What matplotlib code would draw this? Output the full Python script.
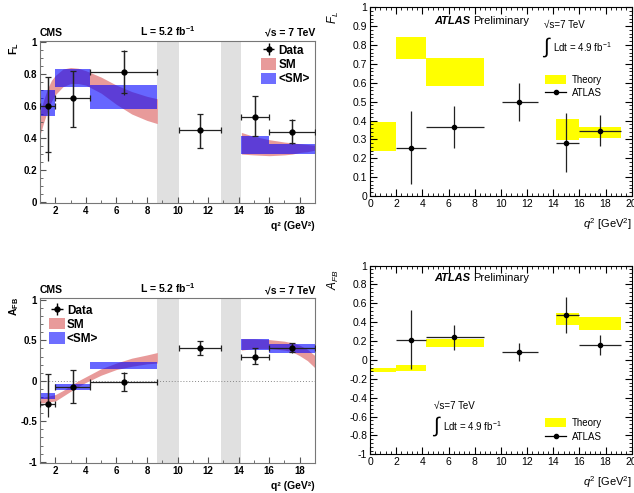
import matplotlib
matplotlib.use("Agg")
import matplotlib.pyplot as plt
import numpy as np
from matplotlib.patches import Rectangle
from matplotlib.lines import Line2D
from matplotlib.ticker import MultipleLocator

plt.rcParams['font.family'] = ['Liberation Sans', 'DejaVu Sans']
plt.rcParams['mathtext.fontset'] = 'custom'
plt.rcParams['mathtext.rm'] = 'Liberation Sans'
plt.rcParams['mathtext.it'] = 'Liberation Sans:italic'
plt.rcParams['mathtext.bf'] = 'Liberation Sans:bold'

# ---------------- CMS data ----------------
cms_lo = [1.0, 2.0, 4.3, 10.09, 14.18, 16.0]
cms_hi = [2.0, 4.3, 8.68, 12.86, 16.0, 19.0]
cms_x = [1.5, 3.15, 6.5, 11.5, 15.1, 17.5]
cms_fl = [0.60, 0.65, 0.81, 0.45, 0.53, 0.44]
cms_fl_stat_lo = [0.29, 0.18, 0.13, 0.11, 0.12, 0.07]
cms_fl_stat_hi = [0.18, 0.17, 0.13, 0.10, 0.13, 0.075]
cms_fl_tot_lo = [0.34, 0.18, 0.14, 0.11, 0.12, 0.08]
cms_fl_tot_hi = [0.18, 0.17, 0.14, 0.10, 0.13, 0.08]
cms_afb = [-0.29, -0.07, -0.01, 0.40, 0.30, 0.41]
cms_afb_stat_lo = [0.0, 0.20, 0.11, 0.08, 0.09, 0.055]
cms_afb_stat_hi = [0.38, 0.20, 0.11, 0.09, 0.10, 0.06]
cms_afb_tot_lo = [0.16, 0.20, 0.12, 0.08, 0.09, 0.06]
cms_afb_tot_hi = [0.38, 0.20, 0.12, 0.09, 0.10, 0.06]

# <SM> boxes (bin-averaged)
smavg_fl_lo = [0.54, 0.72, 0.58, 0.30, 0.30]
smavg_fl_hi = [0.70, 0.83, 0.73, 0.41, 0.365]
smavg_afb_lo = [-0.23, -0.11, 0.15, 0.38, 0.34]
smavg_afb_hi = [-0.15, -0.04, 0.23, 0.52, 0.45]
smavg_bins = [0, 1, 2, 4, 5]

# SM bands
sm_low_q2 = [1.0, 1.25, 1.5, 1.75, 2.0, 2.5, 3.0, 3.5, 4.0, 5.0, 6.0, 7.0, 8.0, 8.68]
sm_fl_low_lo = [0.42, 0.50, 0.57, 0.63, 0.67, 0.72, 0.74, 0.74, 0.73, 0.68, 0.61, 0.55, 0.51, 0.49]
sm_fl_low_hi = [0.56, 0.64, 0.71, 0.76, 0.79, 0.83, 0.84, 0.835, 0.82, 0.78, 0.73, 0.69, 0.66, 0.645]
sm_afb_low_lo = [-0.27, -0.27, -0.26, -0.255, -0.25, -0.19, -0.13, -0.07, -0.02, 0.07, 0.14, 0.18, 0.21, 0.22]
sm_afb_low_hi = [-0.20, -0.20, -0.19, -0.18, -0.17, -0.12, -0.06, 0.00, 0.05, 0.15, 0.22, 0.28, 0.32, 0.35]
sm_high_q2 = [14.18, 15.0, 16.0, 17.0, 17.5, 18.0, 18.5, 19.0]
sm_fl_high_lo = [0.30, 0.295, 0.29, 0.295, 0.30, 0.31, 0.315, 0.325]
sm_fl_high_hi = [0.435, 0.41, 0.39, 0.375, 0.37, 0.365, 0.36, 0.355]
sm_afb_high_lo = [0.38, 0.40, 0.40, 0.38, 0.36, 0.31, 0.25, 0.16]
sm_afb_high_hi = [0.52, 0.52, 0.51, 0.49, 0.47, 0.44, 0.39, 0.31]

vetoes = [(8.68, 10.09), (12.86, 14.18)]

# ---------------- ATLAS data ----------------
atl_lo = [2.0, 4.3, 10.09, 14.18, 16.0]
atl_hi = [4.3, 8.68, 12.86, 16.0, 19.2]
atl_x = [3.1, 6.45, 11.4, 15.0, 17.6]
atl_fl = [0.255, 0.365, 0.50, 0.28, 0.345]
atl_fl_elo = [0.19, 0.11, 0.105, 0.155, 0.08]
atl_fl_ehi = [0.195, 0.11, 0.10, 0.16, 0.085]
atl_afb = [0.215, 0.245, 0.085, 0.48, 0.155]
atl_afb_elo = [0.31, 0.135, 0.095, 0.19, 0.105]
atl_afb_ehi = [0.31, 0.125, 0.095, 0.19, 0.105]

th_lo = [0.0, 2.0, 4.3, 14.18, 16.0]
th_hi = [2.0, 4.3, 8.68, 16.0, 19.2]
th_fl_lo = [0.24, 0.725, 0.585, 0.295, 0.305]
th_fl_hi = [0.39, 0.84, 0.73, 0.41, 0.365]
th_afb_lo = [-0.13, -0.12, 0.14, 0.37, 0.32]
th_afb_hi = [-0.085, -0.05, 0.225, 0.50, 0.455]

PINK = '#E89A9A'
BLUE = (0.0, 0.0, 1.0, 0.6)
GRAY = '#E0E0E0'

fig = plt.figure(figsize=(6.34, 4.93), dpi=100)

def cms_panel(ax, val, slo, shi, tlo, thi, bandlo_l, bandhi_l, bandlo_h, bandhi_h,
              avg_lo, avg_hi, ylim, ylab, yticks, yminor, legloc, afb=False):
    ax.set_xlim(1, 19)
    ax.set_ylim(*ylim)
    for a, b in vetoes:
        ax.axvspan(a, b, color=GRAY, lw=0, zorder=0)
    if afb:
        ax.axhline(0, color='#888888', ls=(0, (1, 2)), lw=0.7, zorder=1)
    ax.fill_between(sm_low_q2, bandlo_l, bandhi_l, color=PINK, lw=0, zorder=1)
    ax.fill_between(sm_high_q2, bandlo_h, bandhi_h, color=PINK, lw=0, zorder=1)
    for k, i in enumerate(smavg_bins):
        ax.add_patch(Rectangle((cms_lo[i], avg_lo[k]), cms_hi[i] - cms_lo[i],
                               avg_hi[k] - avg_lo[k], facecolor=BLUE, lw=0, zorder=2))
    xe = [np.subtract(cms_x, cms_lo), np.subtract(cms_hi, cms_x)]
    ax.errorbar(cms_x, val, yerr=[tlo, thi], fmt='none', ecolor='#222222', elinewidth=0.9, zorder=4)
    ax.errorbar(cms_x, val, xerr=xe, yerr=[slo, shi], fmt='o', color='black', ms=3.5,
                ecolor='#222222', elinewidth=0.9, capsize=2.5, capthick=0.9, zorder=5)
    leg_eb = ax.errorbar([np.nan], [np.nan], xerr=[[1.0], [1.0]], yerr=[[1.0], [1.0]],
                         fmt='o', color='black', ms=3.5, ecolor='black', elinewidth=1.0,
                         capsize=0)
    ax.set_yticks(yticks)
    ax.set_yticklabels([('%g' % t) for t in yticks])
    ax.yaxis.set_minor_locator(MultipleLocator(yminor))
    ax.set_xticks([2, 4, 6, 8, 10, 12, 14, 16, 18])
    ax.xaxis.set_minor_locator(MultipleLocator(1))
    ax.tick_params(which='both', direction='in', top=False, right=False, labelsize=7,
                   pad=2, color='#555555')
    ax.tick_params(which='major', length=4)
    ax.tick_params(which='minor', length=2)
    for lab in ax.get_xticklabels() + ax.get_yticklabels():
        lab.set_fontweight('bold')
    for s in ax.spines.values():
        s.set_color('#777777')
        s.set_linewidth(0.8)
    ax.text(0.0, 1.02, 'CMS', transform=ax.transAxes, fontsize=7.5, fontweight='bold',
            ha='left', va='bottom')
    ax.text(0.465, 1.02, r'L = 5.2 fb$^{\mathbf{-1}}$', transform=ax.transAxes, fontsize=7.5,
            fontweight='bold', ha='center', va='bottom')
    ax.text(1.0, 1.02, '√s = 7 TeV', transform=ax.transAxes, fontsize=7.5, fontweight='bold',
            ha='right', va='bottom')
    ax.text(-0.095, 0.95, ylab, transform=ax.transAxes, fontsize=7.5, fontweight='bold',
            rotation=90, ha='center', va='center')
    ax.text(1.0, -0.11, 'q² (GeV²)', transform=ax.transAxes, fontsize=7.5, fontweight='bold',
            ha='right', va='top')
    handles = [leg_eb, Rectangle((0, 0), 1, 1, facecolor=PINK, edgecolor='none'),
               Rectangle((0, 0), 1, 1, facecolor=(0.43, 0.43, 1.0), edgecolor='none')]
    kw = dict(frameon=False, handlelength=1.3, handleheight=1.1, handletextpad=0.2,
              labelspacing=0.12, prop={'size': 8.5, 'weight': 'bold'})
    if legloc == 'ur':
        ax.legend(handles, ['Data', 'SM', '<SM>'], loc='upper right',
                  bbox_to_anchor=(1.02, 1.045), **kw)
    else:
        ax.legend(handles, ['Data', 'SM', '<SM>'], loc='upper left',
                  bbox_to_anchor=(-0.005, 1.03), **kw)


def atlas_panel(ax, val, elo, ehi, tlo, thi, ylim, ylab, major, minor, texts_top):
    ax.set_xlim(0, 20)
    ax.set_ylim(*ylim)
    for i in range(len(th_lo)):
        ax.add_patch(Rectangle((th_lo[i], tlo[i]), th_hi[i] - th_lo[i], thi[i] - tlo[i],
                               facecolor='#FFFF00', lw=0, zorder=1))
    xe = [np.subtract(atl_x, atl_lo), np.subtract(atl_hi, atl_x)]
    ax.errorbar(atl_x, val, xerr=xe, yerr=[elo, ehi], fmt='o', color='black', ms=3,
                ecolor='#222222', elinewidth=0.9, capsize=0, zorder=5)
    ax.xaxis.set_major_locator(MultipleLocator(2))
    ax.xaxis.set_minor_locator(MultipleLocator(0.4))
    ax.yaxis.set_major_locator(MultipleLocator(major))
    ax.yaxis.set_minor_locator(MultipleLocator(minor))
    ax.yaxis.set_major_formatter(matplotlib.ticker.FuncFormatter(lambda v, p: '%g' % round(v, 2)))
    ax.tick_params(which='both', direction='in', top=True, right=True, labelsize=7.5, pad=2)
    ax.tick_params(which='major', length=5, width=0.8)
    ax.tick_params(which='minor', length=2.5, width=0.6)
    for s in ax.spines.values():
        s.set_linewidth(0.8)
    ax.text(-0.14, 0.98, ylab, transform=ax.transAxes, fontsize=8.5, rotation=90,
            ha='center', va='top')
    ax.text(1.0, -0.105, r'$q^2$ [GeV$^2$]', transform=ax.transAxes, fontsize=8,
            ha='right', va='top')
    yr = ylim[1] - ylim[0]
    ya = (texts_top[0] - ylim[0]) / yr
    ax.text(0.245, ya, 'ATLAS', transform=ax.transAxes, fontsize=8,
            fontweight='bold', fontstyle='italic', ha='left', va='center')
    ax.text(0.395, ya, 'Preliminary', transform=ax.transAxes, fontsize=8, ha='left', va='center')
    xs, ys, yl = texts_top[1], texts_top[2], texts_top[3]
    ax.text(xs, (ys - ylim[0]) / yr, '√s=7 TeV', transform=ax.transAxes, fontsize=7,
            ha='left', va='center')
    ax.text(xs - 0.005, (yl - ylim[0]) / yr, '∫', transform=ax.transAxes, fontsize=15,
            ha='left', va='center')
    ax.text(xs + 0.035, (yl - ylim[0]) / yr, r'Ldt = 4.9 fb$^{-1}$', transform=ax.transAxes,
            fontsize=7, ha='left', va='center')
    handles = [Rectangle((0, 0), 1, 1, facecolor='#FFFF00', edgecolor='none'),
               Line2D([], [], color='black', marker='o', ms=3, lw=0.9)]
    ly = (texts_top[4] - ylim[0]) / yr
    ax.legend(handles, ['Theory', 'ATLAS'], loc='upper left', bbox_to_anchor=(0.635, ly),
              frameon=False, handlelength=2.2, handleheight=1.1, handletextpad=0.6,
              labelspacing=0.4, fontsize=7)


ax1 = fig.add_axes([0.0631, 0.5882, 0.4338, 0.3286])
cms_panel(ax1, cms_fl, cms_fl_stat_lo, cms_fl_stat_hi, cms_fl_tot_lo, cms_fl_tot_hi,
          sm_fl_low_lo, sm_fl_low_hi, sm_fl_high_lo, sm_fl_high_hi,
          smavg_fl_lo, smavg_fl_hi, (-0.005, 1.005), r'$\mathbf{F_L}$',
          [0, 0.2, 0.4, 0.6, 0.8, 1.0], 0.05, 'ur')

ax3 = fig.add_axes([0.0631, 0.0609, 0.4338, 0.334])
cms_panel(ax3, cms_afb, cms_afb_stat_lo, cms_afb_stat_hi, cms_afb_tot_lo, cms_afb_tot_hi,
          sm_afb_low_lo, sm_afb_low_hi, sm_afb_high_lo, sm_afb_high_hi,
          smavg_afb_lo, smavg_afb_hi, (-1.015, 1.02), r'$\mathbf{A_{FB}}$',
          [-1, -0.5, 0, 0.5, 1], 0.1, 'ul', afb=True)

ax2 = fig.add_axes([0.5836, 0.6024, 0.4128, 0.3828])
atlas_panel(ax2, atl_fl, atl_fl_elo, atl_fl_ehi, th_fl_lo, th_fl_hi, (0, 1), r'$F_L$',
            0.1, 0.02, (0.925, 0.665, 0.905, 0.79, 0.69))

ax4 = fig.add_axes([0.5836, 0.0785, 0.4128, 0.3827])
atlas_panel(ax4, atl_afb, atl_afb_elo, atl_afb_ehi, th_afb_lo, th_afb_hi, (-1, 1),
            r'$A_{FB}$', 0.2, 0.04, (0.865, 0.245, -0.49, -0.70, -0.52))

fig.savefig('out.png', dpi=100)
